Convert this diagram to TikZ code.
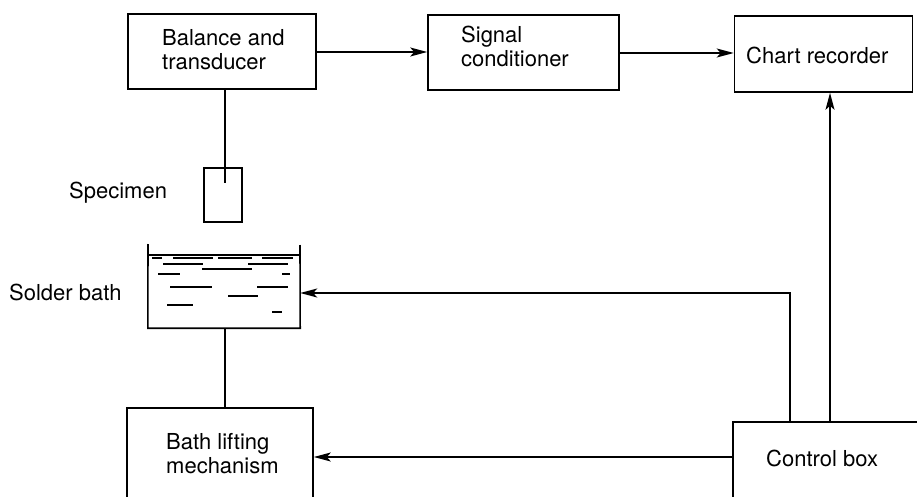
\documentclass[tikz,border=0pt]{standalone}
\usepackage{fontspec}
\setmainfont{TeX Gyre Heros}
\usetikzlibrary{arrows.meta}
\tikzset{
  box/.style={draw, line width=1.6pt, inner sep=0pt},
  lbl/.style={inner sep=0pt, align=left, font=\fontsize{22}{24}\selectfont},
  conn/.style={line width=1.6pt},
  arr/.style={line width=1.6pt, -{Stealth[length=17pt,width=9pt,inset=4pt]}},
  liquid/.style={line width=1.3pt}
}
\begin{document}
\begin{tikzpicture}[x=1pt,y=-1pt]
\useasboundingbox (0,0) rectangle (917,497);
\clip (0,0) rectangle (917,497);
% boxes
\node[box, minimum width=188pt, minimum height=75pt] (bal) at (222,51.5) {};
\node[box, minimum width=191pt, minimum height=75pt] (sig) at (523.5,52.5) {};
\node[box, minimum width=178pt, minimum height=76pt] (chart) at (823.5,54) {};
\node[box, minimum width=186pt, minimum height=130pt] (lift) at (220,473) {};
\node[box, minimum width=210pt, minimum height=130pt] (ctrl) at (838,487) {};
\node[box, minimum width=38pt, minimum height=54pt] (spec) at (223,195) {};
% texts
\node[lbl, anchor=west] (baltxt) at (162,50) {Balance and\\transducer};
\node[lbl, anchor=west] (sigtxt) at (461,46) {Signal\\conditioner};
\node[lbl, anchor=west] (charttxt) at (746,55) {Chart recorder};
\node[lbl, anchor=west] (lifttxt) at (166,454) {Bath lifting\\mechanism};
\node[lbl, anchor=west] (ctrltxt) at (766,458) {Control box};
\node[lbl, anchor=west] (spectxt) at (69,193) {Specimen};
\node[lbl, anchor=west] (bathtxt) at (9,292) {Solder bath};
% solder bath (open container)
\node[minimum width=152pt, minimum height=83pt, inner sep=0pt] (bath) at (224,286.5) {};
\draw[conn] (148,244) -- (bath.south west) -- (bath.south east) -- (300,245);
\draw[liquid] (bath.west |- 0,255) -- (bath.east |- 0,255);
\foreach \xa/\xb/\yy in {152/162/258, 173/213/258, 218/252/258, 262/293/258,
  163/203/264, 248/288/264, 202/252/269, 158/180/274, 282/290/274,
  170/212/287, 257/288/287, 228/258/296, 167/193/305, 272/282/312}
  \draw[liquid] (\xa,\yy) -- (\xb,\yy);
% connectors
\coordinate (sptip) at (225,183);
\draw[conn] (bal.south -| sptip) -- (sptip);
\draw[conn] (bath.south -| sptip) -- (lift.north -| sptip);
\draw[arr] (bal.east |- 0,52) -- (sig.west |- 0,52);
\draw[arr] (sig.east |- 0,53) -- (chart.west |- 0,53);
\coordinate (c1) at (790,293);
\draw[arr] (ctrl.north -| c1) -- (c1) -- (bath.east |- c1);
\coordinate (c2) at (830,200);
\draw[arr] (ctrl.north -| c2) -- (chart.south -| c2);
\draw[arr] (ctrl.west |- 0,457) -- (lift.east |- 0,457);
\end{tikzpicture}
\end{document}
